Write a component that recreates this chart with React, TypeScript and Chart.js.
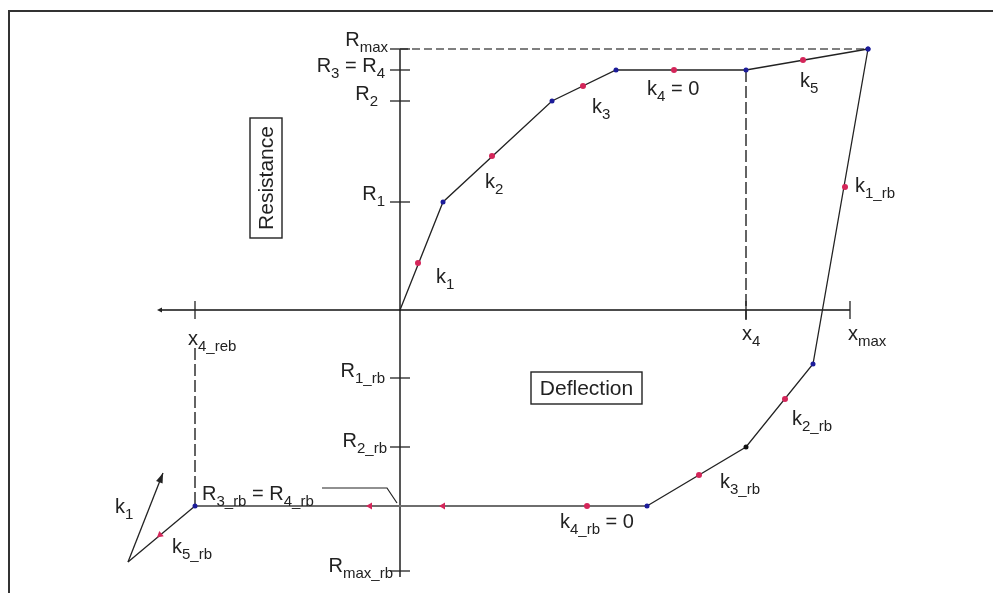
import React, { useEffect, useRef } from 'react';
import { Chart, registerables } from 'chart.js';

Chart.register(...registerables);

// Loading branch: deflection / resistance at each break point
const loadDeflection = [0, 43, 152, 216, 346, 468];
const loadResistance = [0, 108, 209, 240, 240, 261];
// Markers placed on each loading stiffness segment (k1..k5)
const loadStiffDeflection = [18, 92, 183, 274, 403];
const loadStiffResistance = [47, 154, 224, 240, 250];

// Rebound branch
const reboundDeflection = [468, 413, 346, 247, -205, -272];
const reboundResistance = [261, -54, -137, -196, -196, -252];
// Markers on rebound stiffness segments (k1_rb..k4_rb)
const reboundStiffDeflection = [445, 385, 299, 187];
const reboundStiffResistance = [123, -89, -165, -196];
// Direction arrows along the rebound plateau and the k5_rb segment
const reboundArrowDeflection = [43, -30, -240];
const reboundArrowResistance = [-196, -196, -225];
const reboundArrowRotation = [-90, -90, 230];

// Reloading direction (k1) drawn from the end of the rebound branch
const reloadDeflection = [-272, -237];
const reloadResistance = [-252, -163];

// Axis extents
const deflectionAxis = [-240, 450];
const resistanceAxis = [261, -267];

// Tick values and their labels
const resistanceTicks = [261, 240, 209, 108, -68, -137, -261];
const resistanceTickLabels = [
  'R_{max}',
  'R_{3} = R_{4}',
  'R_{2}',
  'R_{1}',
  'R_{1_rb}',
  'R_{2_rb}',
  'R_{max_rb}',
];
const deflectionTicks = [-205, 346, 450];
const deflectionTickLabels = ['x_{4_reb}', 'x_{4}', 'x_{max}'];

// Stiffness annotations
const stiffnessLabels = [
  'k_{1}', 'k_{2}', 'k_{3}', 'k_{4} = 0', 'k_{5}',
  'k_{1_rb}', 'k_{2_rb}', 'k_{3_rb}', 'k_{4_rb} = 0', 'k_{5_rb}', 'k_{1}',
];

const INK = '#222';
const BLUE = '#1c1c9a';
const RED = '#d4265a';
const FONT = '"Liberation Sans", Arial, sans-serif';

type Anchor = { x: number; y: number; align: 'left' | 'right' | 'center' };

// Anchors (data units) for tick labels and annotations
const resistanceLabelAnchors: Anchor[] = [
  { x: -12, y: 264, align: 'right' },
  { x: -15, y: 238, align: 'right' },
  { x: -22, y: 210, align: 'right' },
  { x: -15, y: 110, align: 'right' },
  { x: -15, y: -67, align: 'right' },
  { x: -13, y: -137, align: 'right' },
  { x: -7, y: -262, align: 'right' },
];
const deflectionLabelAnchors: Anchor[] = [
  { x: -212, y: -35, align: 'left' },
  { x: 342, y: -30, align: 'left' },
  { x: 448, y: -30, align: 'left' },
];
const stiffnessAnchors: Anchor[] = [
  { x: 36, y: 27, align: 'left' },
  { x: 85, y: 122, align: 'left' },
  { x: 192, y: 197, align: 'left' },
  { x: 247, y: 215, align: 'left' },
  { x: 400, y: 223, align: 'left' },
  { x: 455, y: 118, align: 'left' },
  { x: 392, y: -115, align: 'left' },
  { x: 320, y: -178, align: 'left' },
  { x: 160, y: -218, align: 'left' },
  { x: -228, y: -243, align: 'left' },
  { x: -285, y: -203, align: 'left' },
];

type Seg = { t: string; sub: boolean };

function parseRich(s: string): Seg[] {
  const out: Seg[] = [];
  const re = /_\{([^}]*)\}/g;
  let last = 0;
  let m: RegExpExecArray | null;
  while ((m = re.exec(s))) {
    if (m.index > last) out.push({ t: s.slice(last, m.index), sub: false });
    out.push({ t: m[1], sub: true });
    last = m.index + m[0].length;
  }
  if (last < s.length) out.push({ t: s.slice(last), sub: false });
  return out;
}

function drawRich(
  ctx: CanvasRenderingContext2D,
  text: string,
  x: number,
  y: number,
  align: 'left' | 'right' | 'center',
  size = 20
) {
  const segs = parseRich(text);
  const subSize = Math.round(size * 0.74);
  const mainFont = `${size}px ${FONT}`;
  const subFont = `${subSize}px ${FONT}`;
  let w = 0;
  const widths = segs.map((s) => {
    ctx.font = s.sub ? subFont : mainFont;
    const m = ctx.measureText(s.t).width;
    w += m;
    return m;
  });
  let cx = align === 'right' ? x - w : align === 'center' ? x - w / 2 : x;
  ctx.textAlign = 'left';
  ctx.textBaseline = 'alphabetic';
  ctx.fillStyle = INK;
  segs.forEach((s, i) => {
    ctx.font = s.sub ? subFont : mainFont;
    ctx.fillText(s.t, cx, s.sub ? y + size * 0.3 : y);
    cx += widths[i];
  });
}

const diagramPlugin = {
  id: 'diagram',
  beforeDatasetsDraw(chart: any) {
    const { ctx } = chart;
    ctx.save();
    ctx.strokeStyle = '#333';
    ctx.lineWidth = 2;
    ctx.beginPath();
    ctx.moveTo(9, 593);
    ctx.lineTo(9, 11);
    ctx.lineTo(993, 11);
    ctx.stroke();
    ctx.restore();
  },
  afterDatasetsDraw(chart: any) {
    const { ctx } = chart;
    const xs = chart.scales.x;
    const ys = chart.scales.y;
    const px = (v: number) => xs.getPixelForValue(v);
    const py = (v: number) => ys.getPixelForValue(v);
    ctx.save();
    ctx.strokeStyle = INK;
    ctx.lineWidth = 1.3;
    const seg = (x1: number, y1: number, x2: number, y2: number) => {
      ctx.beginPath();
      ctx.moveTo(x1, y1);
      ctx.lineTo(x2, y2);
      ctx.stroke();
    };
    // resistance ticks on the vertical axis
    resistanceTicks.forEach((v) => seg(px(-10), py(v), px(10), py(v)));
    // deflection ticks on the horizontal axis
    deflectionTicks.forEach((v) => seg(px(v), py(9), px(v), py(-9)));

    resistanceTickLabels.forEach((t, i) => {
      const a = resistanceLabelAnchors[i];
      drawRich(ctx, t, px(a.x), py(a.y), a.align);
    });
    deflectionTickLabels.forEach((t, i) => {
      const a = deflectionLabelAnchors[i];
      drawRich(ctx, t, px(a.x), py(a.y), a.align);
    });
    stiffnessLabels.forEach((t, i) => {
      const a = stiffnessAnchors[i];
      drawRich(ctx, t, px(a.x), py(a.y), a.align);
    });

    // rebound plateau label with its leader line
    drawRich(ctx, 'R_{3_rb} = R_{4_rb}', px(-198), py(-190), 'left');
    ctx.lineWidth = 1.2;
    ctx.beginPath();
    ctx.moveTo(px(-78), py(-178));
    ctx.lineTo(px(-13), py(-178));
    ctx.lineTo(px(-3), py(-193));
    ctx.stroke();

    // arrow head of the k1 reloading direction
    const ax0 = px(reloadDeflection[0]), ay0 = py(reloadResistance[0]);
    const ax1 = px(reloadDeflection[1]), ay1 = py(reloadResistance[1]);
    const ang = Math.atan2(ay1 - ay0, ax1 - ax0);
    ctx.fillStyle = INK;
    ctx.beginPath();
    ctx.moveTo(ax1, ay1);
    ctx.lineTo(ax1 - 10 * Math.cos(ang) + 3.5 * Math.sin(ang), ay1 - 10 * Math.sin(ang) - 3.5 * Math.cos(ang));
    ctx.lineTo(ax1 - 10 * Math.cos(ang) - 3.5 * Math.sin(ang), ay1 - 10 * Math.sin(ang) + 3.5 * Math.cos(ang));
    ctx.closePath();
    ctx.fill();

    // small arrow at the negative end of the deflection axis
    const lx = px(deflectionAxis[0]);
    const ly = py(0);
    ctx.beginPath();
    ctx.moveTo(lx - 3, ly);
    ctx.lineTo(lx + 2, ly - 2.5);
    ctx.lineTo(lx + 2, ly + 2.5);
    ctx.closePath();
    ctx.fill();

    // axis title boxes
    ctx.lineWidth = 1.4;
    ctx.strokeStyle = INK;
    const rx0 = px(-150), ry0 = py(192), rx1 = px(-118), ry1 = py(72);
    ctx.strokeRect(rx0, ry0, rx1 - rx0, ry1 - ry0);
    ctx.save();
    ctx.translate((rx0 + rx1) / 2 + 7, (ry0 + ry1) / 2);
    ctx.rotate(-Math.PI / 2);
    ctx.font = `21px ${FONT}`;
    ctx.textAlign = 'center';
    ctx.textBaseline = 'alphabetic';
    ctx.fillStyle = INK;
    ctx.fillText('Resistance', 0, 0);
    ctx.restore();

    const dx0 = px(131), dy0 = py(-62), dx1 = px(242), dy1 = py(-94);
    ctx.strokeRect(dx0, dy0, dx1 - dx0, dy1 - dy0);
    ctx.font = `21px ${FONT}`;
    ctx.textAlign = 'center';
    ctx.textBaseline = 'alphabetic';
    ctx.fillStyle = INK;
    ctx.fillText('Deflection', (dx0 + dx1) / 2, (dy0 + dy1) / 2 + 7);
    ctx.restore();
  },
};

const pts = (xs: number[], ys: number[]) => xs.map((x, i) => ({ x, y: ys[i] }));

export default function App() {
  const ref = useRef<HTMLCanvasElement>(null);

  useEffect(() => {
    if (!ref.current) return;
    const reboundNodeColors = [BLUE, BLUE, '#111', BLUE, BLUE, INK];
    const reboundNodeRadius = [2.5, 2.5, 2.5, 2.5, 2.5, 0];
    const chart = new Chart(ref.current, {
      type: 'scatter',
      data: {
        datasets: [
          {
            label: 'rebound direction',
            data: pts(reboundArrowDeflection, reboundArrowResistance),
            pointStyle: 'triangle',
            rotation: reboundArrowRotation,
            pointRadius: 4,
            backgroundColor: RED,
            borderColor: RED,
            borderWidth: 0,
            showLine: false,
          },
          {
            label: 'rebound stiffness',
            data: pts(reboundStiffDeflection, reboundStiffResistance),
            pointRadius: 3,
            backgroundColor: RED,
            borderColor: RED,
            borderWidth: 0,
            showLine: false,
          },
          {
            label: 'loading stiffness',
            data: pts(loadStiffDeflection, loadStiffResistance),
            pointRadius: 3,
            backgroundColor: RED,
            borderColor: RED,
            borderWidth: 0,
            showLine: false,
          },
          {
            label: 'loading',
            data: pts(loadDeflection, loadResistance),
            showLine: true,
            borderColor: INK,
            borderWidth: 1.3,
            pointRadius: [0, 2.5, 2.5, 2.5, 2.5, 2.5],
            pointBackgroundColor: BLUE,
            pointBorderWidth: 0,
          },
          {
            label: 'rebound',
            data: pts(reboundDeflection, reboundResistance),
            showLine: true,
            borderColor: INK,
            borderWidth: 1.3,
            segment: {
              borderColor: (c: any) => (c.p0.parsed.y === c.p1.parsed.y ? '#6e6e6e' : INK),
              borderWidth: (c: any) => (c.p0.parsed.y === c.p1.parsed.y ? 2 : 1.3),
            },
            pointRadius: reboundNodeRadius,
            pointBackgroundColor: reboundNodeColors,
            pointBorderWidth: 0,
          },
          {
            label: 'k1 reloading',
            data: pts(reloadDeflection, reloadResistance),
            showLine: true,
            borderColor: INK,
            borderWidth: 1.3,
            pointRadius: 0,
          },
          {
            label: 'Rmax level',
            data: [
              { x: 0, y: loadResistance[5] },
              { x: loadDeflection[5], y: loadResistance[5] },
            ],
            showLine: true,
            borderColor: '#555',
            borderWidth: 1.3,
            borderDash: [8, 4],
            pointRadius: 0,
          },
          {
            label: 'x4',
            data: [
              { x: deflectionTicks[1], y: loadResistance[4] },
              { x: deflectionTicks[1], y: -10 },
            ],
            showLine: true,
            borderColor: INK,
            borderWidth: 1.4,
            borderDash: [12, 4],
            pointRadius: 0,
          },
          {
            label: 'x4_reb',
            data: [
              { x: deflectionTicks[0], y: -38 },
              { x: deflectionTicks[0], y: reboundResistance[4] },
            ],
            showLine: true,
            borderColor: INK,
            borderWidth: 1.4,
            borderDash: [12, 4],
            pointRadius: 0,
          },
          {
            label: 'Deflection axis',
            data: [
              { x: deflectionAxis[0], y: 0 },
              { x: deflectionAxis[1], y: 0 },
            ],
            showLine: true,
            borderColor: '#111',
            borderWidth: 1.6,
            pointRadius: 0,
          },
          {
            label: 'Resistance axis',
            data: [
              { x: 0, y: resistanceAxis[0] },
              { x: 0, y: resistanceAxis[1] },
            ],
            showLine: true,
            borderColor: '#111',
            borderWidth: 1.4,
            pointRadius: 0,
          },
        ],
      },
      options: {
        animation: false,
        responsive: false,
        maintainAspectRatio: false,
        layout: { padding: 0, autoPadding: false },
        events: [],
        plugins: {
          legend: { display: false },
          tooltip: { enabled: false },
        },
        scales: {
          x: { type: 'linear', min: -400, max: 593, display: false },
          y: { type: 'linear', min: -283, max: 310, display: false },
        },
      },
      plugins: [diagramPlugin],
    } as any);
    return () => chart.destroy();
  }, []);

  return (
    <div style={{ position: 'fixed', left: 0, top: 0, width: 993, height: 593, background: '#fff' }}>
      <canvas ref={ref} width={993} height={593} style={{ display: 'block', width: 993, height: 593 }} />
    </div>
  );
}
